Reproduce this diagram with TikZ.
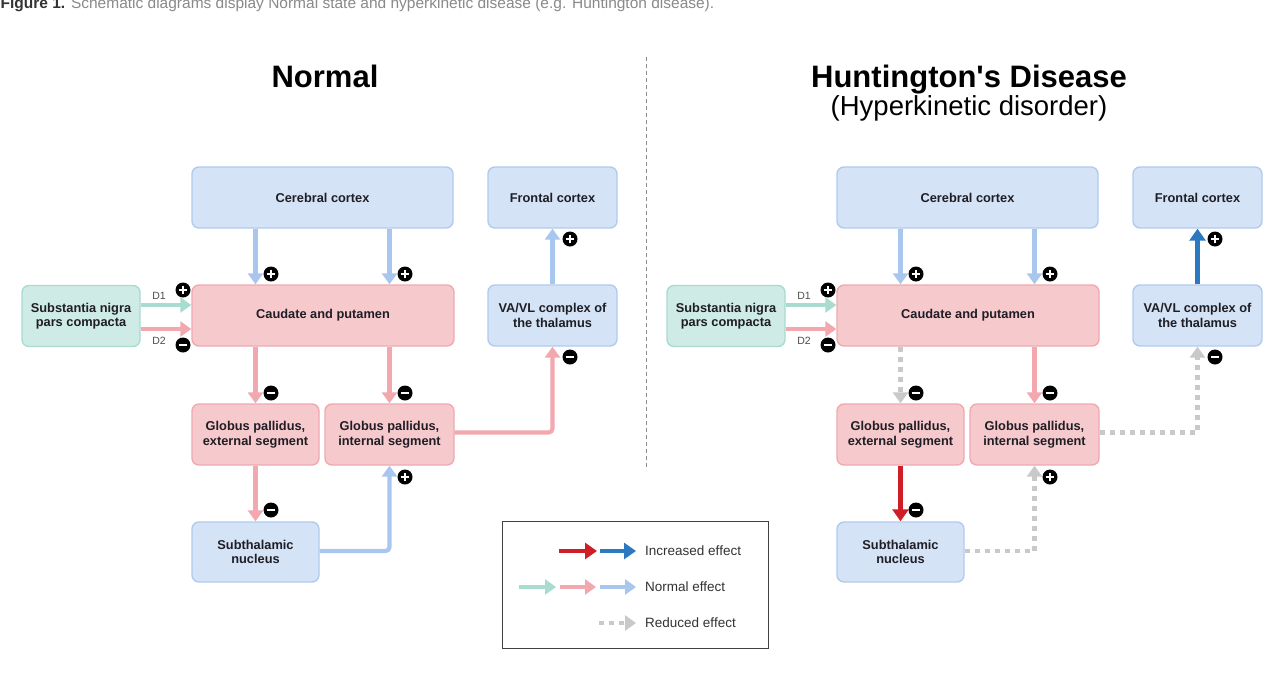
\documentclass[tikz,border=0pt]{standalone}
\usepackage{fontspec}
\setmainfont{Liberation Sans}
\usetikzlibrary{arrows.meta}
\definecolor{bfill}{HTML}{D5E3F7}
\definecolor{bline}{HTML}{B1CBEE}
\definecolor{pfill}{HTML}{F6C9CD}
\definecolor{pline}{HTML}{EFAAB0}
\definecolor{tfill}{HTML}{CFEBE5}
\definecolor{tline}{HTML}{A9DBD1}
\definecolor{abl}{HTML}{A9C6EE}
\definecolor{apk}{HTML}{F2A8AE}
\definecolor{atl}{HTML}{A8DCD1}
\definecolor{ared}{HTML}{D01E27}
\definecolor{adb}{HTML}{2D79C0}
\definecolor{agr}{HTML}{C9C9C9}
\definecolor{txt}{HTML}{1E1E24}
\definecolor{captxt}{HTML}{8A8A8A}
\tikzset{
  box/.style={draw, rounded corners=7pt, line width=1.4pt, inner sep=0pt, align=center,
    font=\fontsize{12.8}{14.5}\selectfont\bfseries, text=txt},
  bluebox/.style={box, fill=bfill, draw=bline},
  pinkbox/.style={box, fill=pfill, draw=pline},
  tealbox/.style={box, fill=tfill, draw=tline},
  arr/.style={line width=4.2pt, -{Triangle[width=15pt,length=11pt]}},
  arrb/.style={arr, draw=abl},
  arrp/.style={arr, draw=apk},
  arrt/.style={arr, draw=atl},
  arrr/.style={line width=4.6pt, draw=ared, -{Triangle[width=16pt,length=12pt]}},
  arrd/.style={line width=4.6pt, draw=adb, -{Triangle[width=16pt,length=12pt]}},
  arrg/.style={arr, draw=agr, dash pattern=on 5pt off 5pt},
  sgn/.style={circle, fill=black, minimum size=15pt, inner sep=0pt},
  sp/.style={sgn, path picture={\draw[white,line width=2.6pt]
      ([xshift=-4.4pt]path picture bounding box.center) -- ([xshift=4.4pt]path picture bounding box.center)
      ([yshift=-4.4pt]path picture bounding box.center) -- ([yshift=4.4pt]path picture bounding box.center);}},
  sm/.style={sgn, path picture={\draw[white,line width=2.6pt]
      ([xshift=-4.4pt]path picture bounding box.center) -- ([xshift=4.4pt]path picture bounding box.center);}},
  dlab/.style={font=\fontsize{10.5}{12}\selectfont, text=black!70, inner sep=0pt},
  leg/.style={font=\fontsize{13.5}{16}\selectfont, text=black!80, anchor=west, inner sep=0pt},
}
\begin{document}
\begin{tikzpicture}[x=1pt,y=-1pt]
\useasboundingbox[fill=white] (0,0) rectangle (1277,691);

% caption (cut at top, as in the reference)
\node[anchor=base west, inner sep=0pt, font=\fontsize{15.5}{18}\selectfont, text=captxt] (cap) at (0.5,8)
  {\textbf{\textcolor{black!80}{Figure 1.}} Schematic diagrams display Normal state and hyperkinetic disease (e.g. Huntington disease).};

% titles
\node[font=\fontsize{31}{36}\selectfont\bfseries, inner sep=0pt, anchor=base] (t1) at (325,87) {Normal};
\node[font=\fontsize{31}{36}\selectfont\bfseries, inner sep=0pt, anchor=base] (t2) at (969,87) {Huntington\textquotesingle s Disease};
\node[font=\fontsize{27.5}{32}\selectfont, inner sep=0pt, anchor=base] (t3) at (969,115) {(Hyperkinetic disorder)};

% divider
\coordinate (dv1) at (646,57);
\coordinate (dv2) at (646,470);
\draw[black!45, line width=0.9pt, dash pattern=on 4pt off 3pt] (dv1) -- (dv2);

\foreach \s/\dx in {L/0,R/645}{
  \node[bluebox, minimum width=261pt, minimum height=61pt] (\s cc) at (322.5+\dx,197.5) {Cerebral cortex};
  \node[bluebox, minimum width=129pt, minimum height=61pt] (\s fc) at (552.5+\dx,197.5) {Frontal cortex};
  \node[tealbox, minimum width=118pt, minimum height=61pt] (\s sn) at (81+\dx,316) {Substantia nigra\\pars compacta};
  \node[pinkbox, minimum width=262pt, minimum height=61pt] (\s cp) at (323+\dx,315.5) {Caudate and putamen};
  \node[bluebox, minimum width=129pt, minimum height=61pt] (\s va) at (552.5+\dx,315.5) {VA/VL complex of\\the thalamus};
  \node[pinkbox, minimum width=127pt, minimum height=61pt] (\s gpe) at (255.5+\dx,434.5) {Globus pallidus,\\external segment};
  \node[pinkbox, minimum width=129pt, minimum height=61pt] (\s gpi) at (389.5+\dx,434.5) {Globus pallidus,\\internal segment};
  \node[bluebox, minimum width=127pt, minimum height=60pt] (\s stn) at (255.5+\dx,552) {Subthalamic\\nucleus};
  % D labels
  \node[dlab] (\s d1) at (159+\dx,296) {D1};
  \node[dlab] (\s d2) at (159+\dx,341) {D2};
  % signs
  \node[sp] (\s s1) at (271+\dx,274) {};
  \node[sp] (\s s2) at (405+\dx,274) {};
  \node[sp] (\s s3) at (183+\dx,290) {};
  \node[sm] (\s s4) at (183+\dx,345) {};
  \node[sm] (\s s5) at (271+\dx,393) {};
  \node[sm] (\s s6) at (405+\dx,393) {};
  \node[sm] (\s s7) at (271+\dx,510) {};
  \node[sp] (\s s8) at (405+\dx,477) {};
  \node[sm] (\s s9) at (570+\dx,357) {};
  \node[sp] (\s s10) at (570+\dx,239) {};
  % common arrows
  \draw[arrb] (\s cc.south -| \s gpe) -- (\s cp.north -| \s gpe);
  \draw[arrb] (\s cc.south -| \s gpi) -- (\s cp.north -| \s gpi);
  \draw[arrt] ([yshift=11pt]\s sn.east) -- ([yshift=11pt]\s sn.east -| \s cp.west);
  \draw[arrp] ([yshift=-13pt]\s sn.east) -- ([yshift=-13pt]\s sn.east -| \s cp.west);
  \draw[arrp] (\s cp.south -| \s gpi) -- (\s gpi.north);
}

% Normal side
\draw[arrp] (Lcp.south -| Lgpe) -- (Lgpe.north);
\draw[arrp] (Lgpe.south) -- (Lstn.north);
\draw[arrb, rounded corners=4pt] ([yshift=1pt]Lstn.east) -| (Lgpi.south);
\draw[arrp, rounded corners=4pt] ([yshift=2pt]Lgpi.east) -| (Lva.south);
\draw[arrb] (Lva.north) -- (Lfc.south);

% Huntington side
\draw[arrg] (Rcp.south -| Rgpe) -- (Rgpe.north);
\draw[arrr] (Rgpe.south) -- (Rstn.north);
\draw[arrg] ([yshift=1pt]Rstn.east) -| (Rgpi.south);
\draw[arrg] ([yshift=2pt]Rgpi.east) -| (Rva.south);
\draw[arrd] (Rva.north) -- (Rfc.south);

% legend
\node[draw=black!75, line width=1pt, minimum width=266pt, minimum height=127pt, inner sep=0pt] (legbox) at (635,584.5) {};
\coordinate (lr1) at (559,551); \coordinate (lr2) at (597,551);
\coordinate (lb1) at (600,551); \coordinate (lb2) at (636,551);
\coordinate (nt1) at (519,587); \coordinate (nt2) at (556,587);
\coordinate (np1) at (560,587); \coordinate (np2) at (596,587);
\coordinate (nb1) at (600,587); \coordinate (nb2) at (636,587);
\coordinate (rg1) at (599,623); \coordinate (rg2) at (636,623);
\draw[arrr, line width=4.2pt] (lr1) -- (lr2);
\draw[arrd, line width=4.2pt] (lb1) -- (lb2);
\draw[arrt] (nt1) -- (nt2);
\draw[arrp] (np1) -- (np2);
\draw[arrb] (nb1) -- (nb2);
\draw[arrg] (rg1) -- (rg2);
\node[leg] (l1) at (645,551) {Increased effect};
\node[leg] (l2) at (645,587) {Normal effect};
\node[leg] (l3) at (645,623) {Reduced effect};
\end{tikzpicture}
\end{document}
